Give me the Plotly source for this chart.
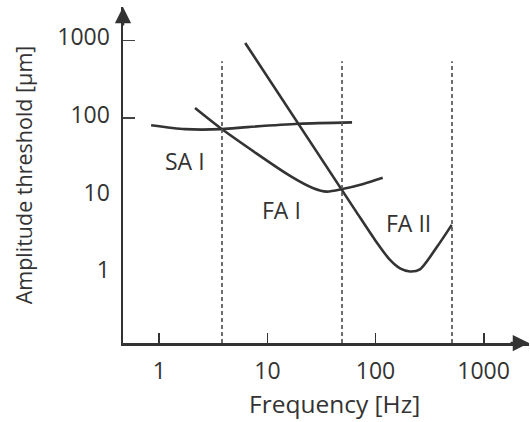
import math
import plotly.graph_objects as go

# ---- data ----
sa1_freq = [0.84, 1.73, 3.8, 6.5, 19.6, 60.7]
sa1_amp = [81, 72, 72, 76.5, 84.5, 88]

fa1_freq = [2.14, 3.78, 16.2, 26.6, 35.4, 49.3, 77.1, 116.6]
fa1_amp = [134.5, 72.2, 18.0, 12.5, 11.3, 12.2, 14.2, 17.0]

fa2_freq = [6.23, 64.6, 98.9, 136.2, 168.6, 208.5, 258, 371, 507]
fa2_amp = [925, 6.58, 2.70, 1.49, 1.16, 1.06, 1.13, 2.20, 4.22]

boundary_freq = [3.8, 49, 510]
boundary_top = 540

label_text = ["SA I", "FA I", "FA II"]
label_freq = [1.73, 13.4, 200]
label_amp = [27.6, 6.6, 4.5]

x_tickvals = [1, 10, 100, 1000]
x_ticktext = ["1", "10", "100", "1000"]
y_tickvals = [1, 10, 100, 1000]
y_ticktext = ["1", "10", "100", "1000"]
y_markvals = [100, 1000]

x_title = "Frequency [Hz]"
y_title = "Amplitude threshold [μm]"

x_range_log = [-0.336, 3.42]
y_range_log = [-0.896, 3.43]

INK = "#333333"
TXT = "#333333"
DASH = "#555555"
FONT = "Open Sans"

fig = go.Figure()

for f in boundary_freq:
    fig.add_trace(go.Scatter(
        x=[f, f], y=[10 ** y_range_log[0], boundary_top], mode="lines",
        line=dict(color=DASH, width=1.7, dash="4px,3px"),
        hoverinfo="skip", showlegend=False, yaxis="y2"))

for fx, fy in [(sa1_freq, sa1_amp), (fa1_freq, fa1_amp), (fa2_freq, fa2_amp)]:
    fig.add_trace(go.Scatter(
        x=fx, y=fy, mode="lines", line=dict(color=INK, width=2.6, shape="spline", smoothing=0.7),
        hoverinfo="skip", showlegend=False))

annotations = []
for t, lx, ly in zip(label_text, label_freq, label_amp):
    annotations.append(dict(x=math.log10(lx), y=math.log10(ly),
                            xref="x", yref="y", text=t, showarrow=False,
                            font=dict(family=FONT, size=23, color=TXT)))
# x axis title
annotations.append(dict(x=0.522, y=0, xref="paper", yref="paper", xanchor="center", yanchor="middle",
                        yshift=-60, text=x_title, showarrow=False,
                        font=dict(family=FONT, size=24.5, color=TXT)))
# axis arrowheads
annotations.append(dict(x=0, y=1, xref="paper", yref="paper", ax=0, ay=20, axref="pixel", ayref="pixel",
                        text="", showarrow=True, arrowhead=2, arrowsize=1.3, arrowwidth=2.5, arrowcolor=INK))
annotations.append(dict(x=1, y=0, xref="paper", yref="paper", ax=-20, ay=0, axref="pixel", ayref="pixel",
                        text="", showarrow=True, arrowhead=2, arrowsize=1.3, arrowwidth=2.5, arrowcolor=INK))

fig.update_layout(
    width=530, height=422,
    margin=dict(l=123, r=1, t=7, b=79, autoexpand=False),
    paper_bgcolor="white", plot_bgcolor="white",
    font=dict(family=FONT, size=23, color=TXT),
    showlegend=False,
    xaxis=dict(type="log", range=x_range_log, tickvals=x_tickvals, ticktext=x_ticktext,
               ticks="inside", ticklen=10, tickwidth=1.8, tickcolor=INK, automargin=False,
               showline=True, linecolor=INK, linewidth=2.5, showgrid=False, zeroline=False,
               tickfont=dict(family=FONT, size=23, color=TXT), ticklabelstandoff=6),
    yaxis=dict(type="log", range=y_range_log, tickvals=y_tickvals, ticktext=y_ticktext,
               ticks="", showline=True, linecolor=INK, linewidth=2.5, showgrid=False, zeroline=False,
               automargin=False, ticklabelshift=-3,
               tickfont=dict(family=FONT, size=23, color=TXT), ticklabelstandoff=6,
               title=dict(text=y_title, font=dict(family=FONT, size=21.5, color=TXT), standoff=19)),
    yaxis2=dict(type="log", range=y_range_log, overlaying="y", side="left", anchor="x", tickvals=y_markvals,
                ticks="inside", ticklen=12, tickwidth=1.5, tickcolor="#444444", automargin=False,
                showticklabels=False, showline=False, showgrid=False, zeroline=False),
    annotations=annotations,
)

fig.write_html("out.html", config={"displayModeBar": False, "staticPlot": True},
               post_script="document.body.style.margin='0';document.body.style.padding='0';")
